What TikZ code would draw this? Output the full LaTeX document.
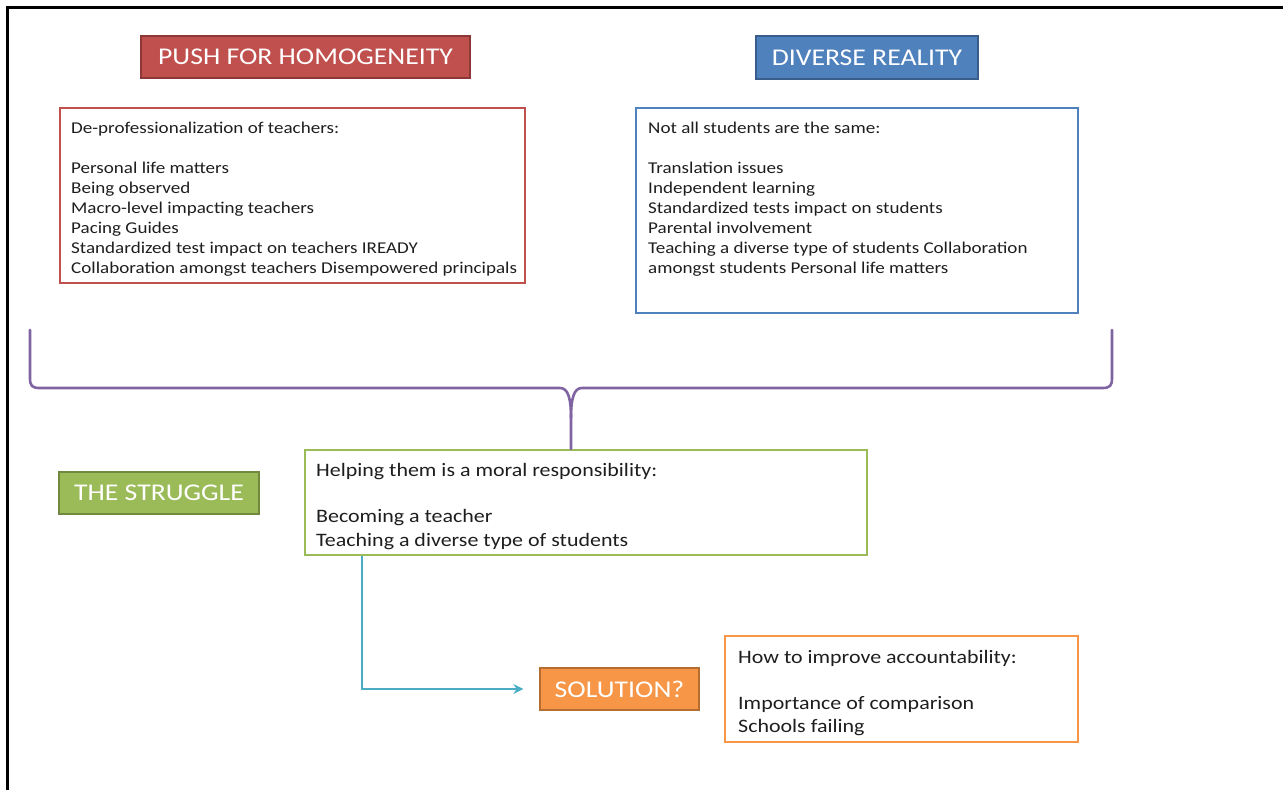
\documentclass[tikz,border=0pt]{standalone}
\usepackage{fontspec}
\setmainfont{Carlito}[FakeStretch=1.155]
\usetikzlibrary{arrows.meta}
\definecolor{redF}{HTML}{C0504D}
\definecolor{redD}{HTML}{8C3836}
\definecolor{blueF}{HTML}{4F81BD}
\definecolor{blueD}{HTML}{385D8A}
\definecolor{greenF}{HTML}{9BBB59}
\definecolor{greenD}{HTML}{71893F}
\definecolor{orangeF}{HTML}{F79646}
\definecolor{orangeD}{HTML}{B66D31}
\definecolor{braceC}{HTML}{8064A2}
\definecolor{connC}{HTML}{4BACC6}
\definecolor{txt}{HTML}{1E1E1E}
\newcommand{\bodytext}[3]{\parbox[t]{500pt}{\fontsize{#1}{#2}\selectfont #3}}
\tikzset{
  titlebox/.style={draw=#1D, fill=#1F, line width=1.2pt, text=white, font=\fontsize{24}{28}\selectfont, inner sep=0pt},
  listbox/.style={draw=#1F, line width=1.8pt, inner sep=0pt},
  bodynode/.style={anchor=base west, inner sep=0pt, text=txt},
  frameline/.style={line width=2.6pt, black},
}
\begin{document}
\begin{tikzpicture}[x=1pt,y=-1pt]
\useasboundingbox (0,0) rectangle (1283,790);
% frame
\draw[frameline] (7.5,790) -- (7.5,7.5) -- (1283,7.5);
% titles
\node[titlebox=red, minimum width=329pt, minimum height=42pt] (push) at (305.5,57) {PUSH FOR HOMOGENEITY};
\node[titlebox=blue, minimum width=222pt, minimum height=43pt] (diverse) at (867,57.5) {DIVERSE REALITY};
\node[titlebox=green, minimum width=200pt, minimum height=42pt] (struggle) at (159,493) {THE STRUGGLE};
\node[titlebox=orange, minimum width=159pt, minimum height=42pt] (solution) at (619.5,689) {SOLUTION?};
% list boxes
\node[listbox=red, minimum width=465pt, minimum height=175pt] (redbox) at (292.5,195.5) {};
\node[listbox=blue, minimum width=442pt, minimum height=205pt] (bluebox) at (857,210.5) {};
\node[listbox=green, minimum width=562pt, minimum height=105pt] (greenbox) at (586,502.5) {};
\node[listbox=orange, minimum width=353pt, minimum height=106pt] (orangebox) at (901.5,689) {};
% texts
\node[bodynode] (redtext) at (71,133) {\bodytext{16.5}{20}{De-professionalization of teachers:\\[20pt]Personal life matters\\Being observed\\Macro-level impacting teachers\\Pacing Guides\\Standardized test impact on teachers IREADY\\Collaboration amongst teachers Disempowered principals}};
\node[bodynode] (bluetext) at (648,133) {\bodytext{16.5}{20}{Not all students are the same:\\[20pt]Translation issues\\Independent learning\\Standardized tests impact on students\\Parental involvement\\Teaching a diverse type of students Collaboration\\amongst students Personal life matters}};
\node[bodynode] (greentext) at (316,476) {\bodytext{19}{24}{Helping them is a moral responsibility:\\[22pt]Becoming a teacher\\Teaching a diverse type of students}};
\node[bodynode] (orangetext) at (738,663) {\bodytext{19}{23}{How to improve accountability:\\[23pt]Importance of comparison\\Schools failing}};
% brace
\coordinate (tip) at (greenbox.north -| 571,0);
\coordinate (bl) at (30,330);
\coordinate (br) at (1112,330);
\draw[braceC, line width=2.6pt, line cap=round, line join=round]
  (bl) -- (30,378) .. controls (30,386) and (32,388) .. (40,388) -- (560,388)
  .. controls (568,388) and (571,398) .. (571,418) -- (tip);
\draw[braceC, line width=2.6pt, line cap=round, line join=round]
  (571,418) .. controls (571,398) and (574,388) .. (582,388) -- (1102,388)
  .. controls (1110,388) and (1112,386) .. (1112,378) -- (br);
% connector
\draw[connC, line width=2.4pt, -{Stealth[length=10pt,width=10pt]}]
  (greenbox.south -| 362,0) -- (362,689) -- ([xshift=-16pt]solution.west);
\end{tikzpicture}
\end{document}
